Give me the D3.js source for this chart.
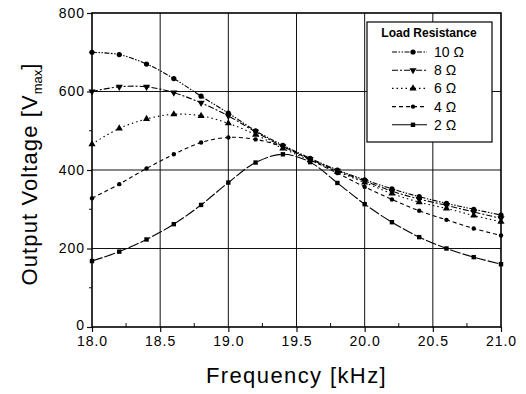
<!DOCTYPE html>
<html>
<head>
<meta charset="utf-8">
<script src="https://cdn.jsdelivr.net/npm/d3@7"></script>
<style>
  body { margin: 0; background: #fff; }
  svg { font-family: "Liberation Sans", Arial, sans-serif; }
</style>
</head>
<body>
<div id="chart"></div>
<script>
// frequency points (kHz)
const freq = [18.0, 18.2, 18.4, 18.6, 18.8, 19.0, 19.2, 19.4, 19.6, 19.8, 20.0, 20.2, 20.4, 20.6, 20.8, 21.0];

// output voltage per load resistance
const v10 = [700, 694, 670, 633, 588, 545, 500, 463, 430, 400, 375, 352, 332, 315, 300, 285];
const v8  = [600, 612, 612, 597, 571, 538, 497, 460, 428, 398, 372, 346, 326, 310, 293, 277];
const v6  = [466, 506, 530, 542, 538, 519, 490, 455, 425, 396, 368, 340, 318, 302, 284, 268];
const v4  = [328, 364, 404, 440, 470, 483, 478, 459, 426, 392, 357, 325, 296, 273, 251, 233];
const v2  = [168, 192, 223, 262, 311, 368, 419, 440, 420, 367, 313, 267, 229, 200, 178, 160];

const seriesNames = ["10 Ω", "8 Ω", "6 Ω", "4 Ω", "2 Ω"];
const xTicks = [18.0, 18.5, 19.0, 19.5, 20.0, 20.5, 21.0];
const yTicks = [0, 200, 400, 600, 800];

const series = [
  { name: seriesNames[0], values: v10, dash: "5,1.5,1.5,1.5,1.5,1.5", marker: "circle" },
  { name: seriesNames[1], values: v8,  dash: "6,2,2,2", marker: "tridown" },
  { name: seriesNames[2], values: v6,  dash: "1.5,3", marker: "triup" },
  { name: seriesNames[3], values: v4,  dash: "4,3", marker: "smallcircle" },
  { name: seriesNames[4], values: v2,  dash: "11,2", marker: "square" }
];

const width = 526, height = 394;
const margin = { top: 13, right: 25, bottom: 67, left: 92 };
const w = width - margin.left - margin.right;
const h = height - margin.top - margin.bottom;

const svg = d3.select("#chart").append("svg")
  .attr("width", width)
  .attr("height", height);

const g = svg.append("g")
  .attr("transform", "translate(" + margin.left + "," + margin.top + ")");

const x = d3.scaleLinear().domain([18, 21]).range([0, w]);
const y = d3.scaleLinear().domain([0, 800]).range([h, 0]);

// grid
g.append("g").selectAll("line").data(xTicks.slice(1, -1)).enter().append("line")
  .attr("x1", d => x(d)).attr("x2", d => x(d))
  .attr("y1", 0).attr("y2", h)
  .attr("stroke", "#111").attr("stroke-width", 1);
g.append("g").selectAll("line").data(yTicks.slice(1, -1)).enter().append("line")
  .attr("y1", d => y(d)).attr("y2", d => y(d))
  .attr("x1", 0).attr("x2", w)
  .attr("stroke", "#111").attr("stroke-width", 1);

// minor ticks
const xMinor = d3.range(18.25, 21, 0.5);
g.append("g").selectAll("line").data(xMinor).enter().append("line")
  .attr("x1", d => x(d)).attr("x2", d => x(d))
  .attr("y1", h).attr("y2", h - 4)
  .attr("stroke", "#111");
const yMinor = [100, 300, 500, 700];
g.append("g").selectAll("line").data(yMinor).enter().append("line")
  .attr("y1", d => y(d)).attr("y2", d => y(d))
  .attr("x1", 0).attr("x2", -3)
  .attr("stroke", "#111");

// axes
const xAxis = g.append("g")
  .attr("transform", "translate(0," + h + ")")
  .call(d3.axisBottom(x).tickValues(xTicks).tickFormat(d3.format(".1f")).tickSize(5).tickPadding(4));
const yAxis = g.append("g")
  .call(d3.axisLeft(y).tickValues(yTicks).tickSize(5).tickPadding(2));

[xAxis, yAxis].forEach(a => {
  a.select(".domain").remove();
  a.selectAll(".tick line").attr("stroke", "#111").attr("stroke-width", 1.2);
  a.selectAll("text").attr("fill", "#000")
    .style("font-size", "14px").style("letter-spacing", "1px");
});
// keep the "0" clear of the "18.0" below it
yAxis.selectAll(".tick text").filter(d => d === 0).attr("dy", "0.15em");

// frame
g.append("rect")
  .attr("width", w).attr("height", h)
  .attr("fill", "none").attr("stroke", "#000").attr("stroke-width", 1.6);

// lines
const line = d3.line()
  .x((d, i) => x(freq[i]))
  .y(d => y(d))
  .curve(d3.curveCatmullRom.alpha(0.5));

function drawMarker(sel, type, cx, cy) {
  if (type === "circle") {
    sel.append("circle").attr("cx", cx).attr("cy", cy).attr("r", 2.6).attr("fill", "#000");
  } else if (type === "smallcircle") {
    sel.append("circle").attr("cx", cx).attr("cy", cy).attr("r", 2.2).attr("fill", "#000");
  } else if (type === "square") {
    sel.append("rect").attr("x", cx - 2.2).attr("y", cy - 2.2).attr("width", 4.4).attr("height", 4.4).attr("fill", "#000");
  } else if (type === "triup") {
    sel.append("path").attr("d", d3.symbol().type(d3.symbolTriangle).size(22)()).attr("transform", "translate(" + cx + "," + cy + ")").attr("fill", "#000");
  } else if (type === "tridown") {
    sel.append("path").attr("d", d3.symbol().type(d3.symbolTriangle).size(22)()).attr("transform", "translate(" + cx + "," + cy + ") rotate(180)").attr("fill", "#000");
  }
}

series.forEach(s => {
  const sg = g.append("g");
  sg.append("path")
    .datum(s.values)
    .attr("d", line)
    .attr("fill", "none")
    .attr("stroke", "#000")
    .attr("stroke-width", 1.1)
    .attr("stroke-dasharray", s.dash);
  s.values.forEach((v, i) => drawMarker(sg, s.marker, x(freq[i]), y(v)));
});

// legend
const lg = svg.append("g").attr("transform", "translate(367,22)");
lg.append("rect")
  .attr("width", 125).attr("height", 120)
  .attr("fill", "#fff").attr("stroke", "#000").attr("stroke-width", 1.2);
lg.append("text")
  .attr("x", 62).attr("y", 15)
  .attr("text-anchor", "middle")
  .style("font-size", "12px").style("font-weight", "bold")
  .text("Load Resistance");
series.forEach((s, i) => {
  const ly = 30 + i * 18.2;
  const row = lg.append("g");
  row.append("line")
    .attr("x1", 25).attr("x2", 60).attr("y1", ly).attr("y2", ly)
    .attr("stroke", "#000").attr("stroke-width", 1.1)
    .attr("stroke-dasharray", i === 4 ? null : s.dash);
  drawMarker(row, s.marker, 46, ly);
  row.append("text")
    .attr("x", 67).attr("y", ly + 5)
    .style("font-size", "14px")
    .text(s.name);
});

// axis titles
svg.append("text")
  .attr("x", margin.left + w / 2).attr("y", 383)
  .attr("text-anchor", "middle")
  .style("font-size", "22px").style("letter-spacing", "1.4px")
  .text("Frequency [kHz]");

const yt = svg.append("text")
  .attr("transform", "translate(37," + (margin.top + h / 2 + 4) + ") rotate(-90)")
  .attr("text-anchor", "middle")
  .style("font-size", "22px").style("letter-spacing", "1.1px");
yt.append("tspan").text("Output Voltage [V");
yt.append("tspan").attr("dy", 5).style("font-size", "13px").style("letter-spacing", "0px").text("max");
yt.append("tspan").attr("dy", -5).text("]");
</script>
</body>
</html>
